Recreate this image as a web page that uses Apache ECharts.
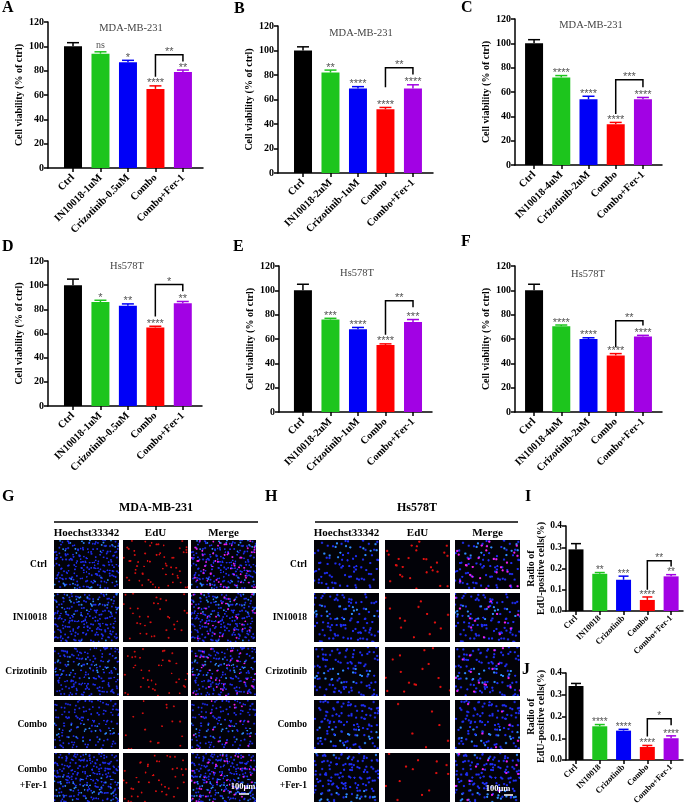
<!DOCTYPE html>
<html><head><meta charset="utf-8">
<script src="https://cdn.jsdelivr.net/npm/echarts@6/dist/echarts.min.js"></script>
<style>html,body{margin:0;padding:0;background:#fff}#c{width:685px;height:808px}</style>
</head><body><div id="c"></div>
<script>
const SERIF = '"Liberation Serif","Times New Roman",serif';
const groupColors = ['#000000', '#1dc51d', '#0000f7', '#fe0000', '#a202e4'];

// ---- data ----
const catsA = ['Ctrl', 'IN10018-1uM', 'Crizotinib-0.5uM', 'Combo', 'Combo+Fer-1'];
const catsB = ['Ctrl', 'IN10018-2uM', 'Crizotinib-1uM', 'Combo', 'Combo+Fer-1'];
const catsC = ['Ctrl', 'IN10018-4uM', 'Crizotinib-2uM', 'Combo', 'Combo+Fer-1'];
const catsIJ = ['Ctrl', 'IN10018', 'Crizotinib', 'Combo', 'Combo+Fer-1'];

const valsA = [100, 94, 87, 65, 79];   const errA = [3, 1.5, 1.5, 2.5, 1.5];
const starsA = ['', 'ns', '*', '****', '**']; const bracketA = [93, 75, 87.5]; const bracketTextA = '**';
const valsB = [100, 82, 69, 52, 69];   const errB = [3, 2, 1.5, 1.5, 3];
const starsB = ['', '**', '****', '****', '****']; const bracketB = [86, 70, 80.5]; const bracketTextB = '**';
const valsC = [100, 72, 54, 33.5, 54]; const errC = [3, 1.5, 2.5, 1.5, 1.5];
const starsC = ['', '****', '****', '****', '****']; const bracketC = [70, 42, 64]; const bracketTextC = '***';
const valsD = [100, 86, 83, 65, 85];   const errD = [5, 1.5, 1.5, 1, 1.5];
const starsD = ['', '*', '**', '****', '**']; const bracketD = [100.5, 74, 95]; const bracketTextD = '*';
const valsE = [100, 76, 68, 55, 74];   const errE = [5, 1, 1.5, 1, 2];
const starsE = ['', '***', '****', '****', '***']; const bracketE = [91.5, 63.5, 86]; const bracketTextE = '**';
const valsF = [100, 70.5, 60, 46.5, 62]; const errF = [5, 1, 1, 1.5, 1];
const starsF = ['', '****', '****', '****', '****']; const bracketF = [75, 53.5, 71]; const bracketTextF = '**';
const valsI = [0.29, 0.175, 0.147, 0.052, 0.163]; const errI = [0.027, 0.006, 0.017, 0.014, 0.008];
const starsI = ['', '**', '***', '****', '**']; const bracketI = [0.237, 0.1, 0.21]; const bracketTextI = '**';
const valsJ = [0.34, 0.155, 0.135, 0.06, 0.1]; const errJ = [0.012, 0.008, 0.006, 0.007, 0.011];
const starsJ = ['', '****', '****', '****', '****']; const bracketJ = [0.19, 0.108, 0.16]; const bracketTextJ = '*';

const rowLabels = ['Ctrl', 'IN10018', 'Crizotinib', 'Combo', 'Combo\n+Fer-1'];
const colLabels = ['Hoechst33342', 'EdU', 'Merge'];
const nucleiMDA = [230, 240, 200, 150, 260];
const eduMDA = [60, 35, 40, 18, 45];
const nucleiHs = [90, 110, 110, 120, 140];
const eduHs = [28, 13, 16, 6, 13];

// ---- layout ----
const panels = [
  {grid:{left:48, top:22, width:155, height:146}, xr:[-0.91,4.73], cats:catsA, vals:valsA, err:errA, stars:starsA, br:bracketA, brText:bracketTextA, title:'MDA-MB-231', tpos:[131,28]},
  {grid:{left:278, top:26, width:155, height:147}, xr:[-0.91,4.73], cats:catsB, vals:valsB, err:errB, stars:starsB, br:bracketB, brText:bracketTextB, title:'MDA-MB-231', tpos:[361,33]},
  {grid:{left:515, top:19, width:147, height:146}, xr:[-0.7,4.7], cats:catsC, vals:valsC, err:errC, stars:starsC, br:bracketC, brText:bracketTextC, title:'MDA-MB-231', tpos:[591,25]},
  {grid:{left:48, top:261, width:154, height:145}, xr:[-0.91,4.7], cats:catsA, vals:valsD, err:errD, stars:starsD, br:bracketD, brText:bracketTextD, title:'Hs578T', tpos:[127,266]},
  {grid:{left:279, top:266, width:153, height:146}, xr:[-0.87,4.69], cats:catsB, vals:valsE, err:errE, stars:starsE, br:bracketE, brText:bracketTextE, title:'Hs578T', tpos:[357,273]},
  {grid:{left:515, top:266, width:147, height:146}, xr:[-0.7,4.7], cats:catsC, vals:valsF, err:errF, stars:starsF, br:bracketF, brText:bracketTextF, title:'Hs578T', tpos:[588,274]},
  {grid:{left:566, top:526, width:117, height:85}, xr:[-0.42,4.5], cats:catsIJ, vals:valsI, err:errI, stars:starsI, br:bracketI, brText:bracketTextI, small:true},
  {grid:{left:566, top:673, width:117, height:87}, xr:[-0.42,4.5], cats:catsIJ, vals:valsJ, err:errJ, stars:starsJ, br:bracketJ, brText:bracketTextJ, small:true}
];

const grids = [], xAxes = [], yAxes = [], series = [], graphics = [];
const STAR_FONT = '"Liberation Sans",Arial,sans-serif';

panels.forEach((p, k) => {
  const small = !!p.small;
  grids.push(p.grid);
  xAxes.push({
    gridIndex: k, type: 'value', min: p.xr[0], max: p.xr[1],
    splitLine: {show: false},
    axisLine: {show: true, onZero: false, lineStyle: {color: '#000', width: 1.5}},
    axisTick: {show: true, customValues: [0, 1, 2, 3, 4], length: 4, lineStyle: {color: '#000', width: 1.5}},
    axisLabel: {customValues: [0, 1, 2, 3, 4], formatter: v => p.cats[Math.round(v)] || '', rotate: 45, margin: small ? 6 : 8,
      fontFamily: SERIF, fontWeight: 'bold', fontSize: small ? 8.5 : 10.5, color: '#000', hideOverlap: false}
  });
  yAxes.push({
    gridIndex: k, type: 'value', min: 0, max: small ? 0.4 : 120, interval: small ? 0.1 : 20,
    splitLine: {show: false},
    axisLine: {show: true, onZero: false, lineStyle: {color: '#000', width: 1.5}},
    axisTick: {show: true, length: 4, lineStyle: {color: '#000', width: 1.5}},
    axisLabel: {formatter: v => small ? v.toFixed(1) : String(v), margin: 4,
      fontFamily: SERIF, fontWeight: 'bold', fontSize: small ? 9.5 : 10, color: '#000'},
    name: small ? 'Radio of\nEdU-positive cells(%)' : 'Cell viability (% of ctrl)',
    nameLocation: 'middle', nameGap: small ? 19 : 22,
    nameTextStyle: {fontFamily: SERIF, fontWeight: 'bold', fontSize: small ? 10 : 10, color: '#000', lineHeight: small ? 10 : 12}
  });
  series.push({
    type: 'bar', xAxisIndex: k, yAxisIndex: k, barWidth: small ? 15 : 18,
    data: p.vals.map((v, i) => ({value: [i, v], itemStyle: {color: groupColors[i]}})),
    animation: false
  });
  const capHalf = small ? 5 : 6;
  const starSize = small ? 10 : 11;
  series.push({
    type: 'custom', xAxisIndex: k, yAxisIndex: k, animation: false, z: 5,
    data: p.vals.map((v, i) => [i, v, p.err[i]]),
    renderItem: (params, api) => {
      const x = api.value(0), y = api.value(1), e = api.value(2);
      const p0 = api.coord([x, y]), p1 = api.coord([x, y + e]);
      const c = groupColors[params.dataIndex];
      const st = p.stars[params.dataIndex];
      const ch = [
        {type: 'line', shape: {x1: p0[0], y1: p0[1], x2: p1[0], y2: p1[1]}, style: {stroke: c, lineWidth: 1.5}},
        {type: 'line', shape: {x1: p1[0] - capHalf, y1: p1[1], x2: p1[0] + capHalf, y2: p1[1]}, style: {stroke: c, lineWidth: 1.5}}
      ];
      if (st) ch.push({type: 'text', style: {text: st, x: p1[0], y: p1[1] + (st === 'ns' ? -1 : 3), align: 'center', verticalAlign: 'bottom',
        textAlign: 'center', textVerticalAlign: 'bottom',
        fill: '#555', font: st === 'ns' ? ('10px ' + SERIF) : (starSize + 'px ' + STAR_FONT)}});
      return {type: 'group', children: ch};
    }
  });
  series.push({
    type: 'custom', xAxisIndex: k, yAxisIndex: k, animation: false, z: 5,
    data: [[3, p.br[0], p.br[1], p.br[2]]],
    renderItem: (params, api) => {
      const top = api.value(1), lo = api.value(2), ro = api.value(3);
      const a = api.coord([3, lo]), b = api.coord([3, top]), c = api.coord([4, top]), d = api.coord([4, ro]);
      return {type: 'group', children: [
        {type: 'polyline', shape: {points: [a, b, c, d]}, style: {stroke: '#000', lineWidth: 1.5, fill: null}},
        {type: 'text', style: {text: p.brText, x: (b[0] + c[0]) / 2, y: b[1] + 3, align: 'center', verticalAlign: 'bottom',
          textAlign: 'center', textVerticalAlign: 'bottom', fill: '#555', font: starSize + 'px ' + STAR_FONT}}
      ]};
    }
  });
  if (p.title) graphics.push({type: 'text', x: p.tpos[0], y: p.tpos[1],
    style: {text: p.title, align: 'center', verticalAlign: 'middle', textAlign: 'center', textVerticalAlign: 'middle',
      font: '10.5px ' + SERIF, fill: '#444'}});
});

// ---- panel letters ----
[['A',2,8],['B',234,9],['C',461,8],['D',2,247],['E',233,247],['F',461,242],['G',2,497],['H',265,497],['I',525,497],['J',522,670]].forEach(l => {
  graphics.push({type: 'text', x: l[1], y: l[2], style: {text: l[0], align: 'left', verticalAlign: 'middle', textAlign: 'left', textVerticalAlign: 'middle',
    font: 'bold 16px ' + SERIF, fill: '#000'}});
});

// ---- microscopy texture ----
function frac(v) { return v - Math.floor(v); }
function cellImage(w, h, layers) {
  const s = 3, cv = document.createElement('canvas');
  cv.width = w * s; cv.height = h * s;
  const ctx = cv.getContext('2d');
  ctx.fillStyle = '#020208'; ctx.fillRect(0, 0, cv.width, cv.height);
  layers.forEach(L => {
    for (let i = 0; i < L.n; i++) {
      const u = frac(L.o + 0.7548776662 * i + 0.09 * Math.sin(i * 12.9898 + L.o * 7));
      const v = frac(L.o * 1.7 + 0.5698402910 * i + 0.09 * Math.sin(i * 78.233 + L.o * 3));
      ctx.fillStyle = (L.c2 && i % 7 === 0) ? L.c2 : L.c;
      ctx.beginPath(); ctx.arc(u * w * s, v * h * s, L.r * s, 0, Math.PI * 2); ctx.fill();
    }
  });
  return cv.toDataURL();
}

function microPanel(cx, colX, rowY, w, h, title, titleLineX, nuclei, edu, r, sb) {
  graphics.push({type: 'text', x: cx, y: 508, style: {text: title, align: 'center', verticalAlign: 'middle', textAlign: 'center', textVerticalAlign: 'middle', font: 'bold 12px ' + SERIF, fill: '#000'}});
  graphics.push({type: 'line', shape: {x1: titleLineX[0], y1: 522, x2: titleLineX[1], y2: 522}, style: {stroke: '#000', lineWidth: 1.5}});
  colLabels.forEach((t, j) => graphics.push({type: 'text', x: colX[j] + w / 2, y: 533,
    style: {text: t, align: 'center', verticalAlign: 'middle', textAlign: 'center', textVerticalAlign: 'middle', font: 'bold 11px ' + SERIF, fill: '#000'}}));
  rowLabels.forEach((t, i) => {
    graphics.push({type: 'text', x: colX[0] - 7, y: rowY[i] + h / 2,
      style: {text: t, align: 'right', verticalAlign: 'middle', textAlign: 'right', textVerticalAlign: 'middle', font: 'bold 9.5px ' + SERIF, fill: '#000', lineHeight: 16}});
    const off = 0.11 * (i + 1) + (r > 1 ? 0.05 : 0);
    const blue = {n: nuclei[i], o: off, c: '#1f2ef5', c2: '#2f8cff', r: r};
    const red = {n: edu[i], o: off + 0.37, c: '#e01010', r: r};
    const mag = {n: edu[i], o: off + 0.37, c: '#f020f0', r: r};
    const imgs = [cellImage(w, h, [blue]), cellImage(w, h, [red]), cellImage(w, h, [blue, mag])];
    imgs.forEach((src, j) => graphics.push({type: 'image', x: colX[j], y: rowY[i], style: {image: src, width: w, height: h}}));
  });
  graphics.push({type: 'text', x: sb[0], y: sb[1], style: {text: '100μm', align: 'center', verticalAlign: 'middle', textAlign: 'center', textVerticalAlign: 'middle', font: 'bold 8.5px ' + SERIF, fill: '#fff'}});
  graphics.push({type: 'line', shape: {x1: sb[2], y1: sb[3], x2: sb[4], y2: sb[3]}, style: {stroke: '#fff', lineWidth: 1.5}});
}
const rowsY = [540, 593, 647, 700, 753];
microPanel(156, [54, 123, 191], rowsY, 65, 49, 'MDA-MB-231', [54, 258], nucleiMDA, eduMDA, 0.9, [243, 787, 239, 794, 249]);
microPanel(417, [314, 385, 455], rowsY, 65, 49, 'Hs578T', [315, 518], nucleiHs, eduHs, 1.1, [498, 789, 504, 795, 513]);

const chart = echarts.init(document.getElementById('c'), null, {renderer: 'canvas'});
chart.setOption({
  animation: false,
  backgroundColor: '#fff',
  grid: grids, xAxis: xAxes, yAxis: yAxes, series: series,
  graphic: {elements: graphics}
});
</script></body></html>
